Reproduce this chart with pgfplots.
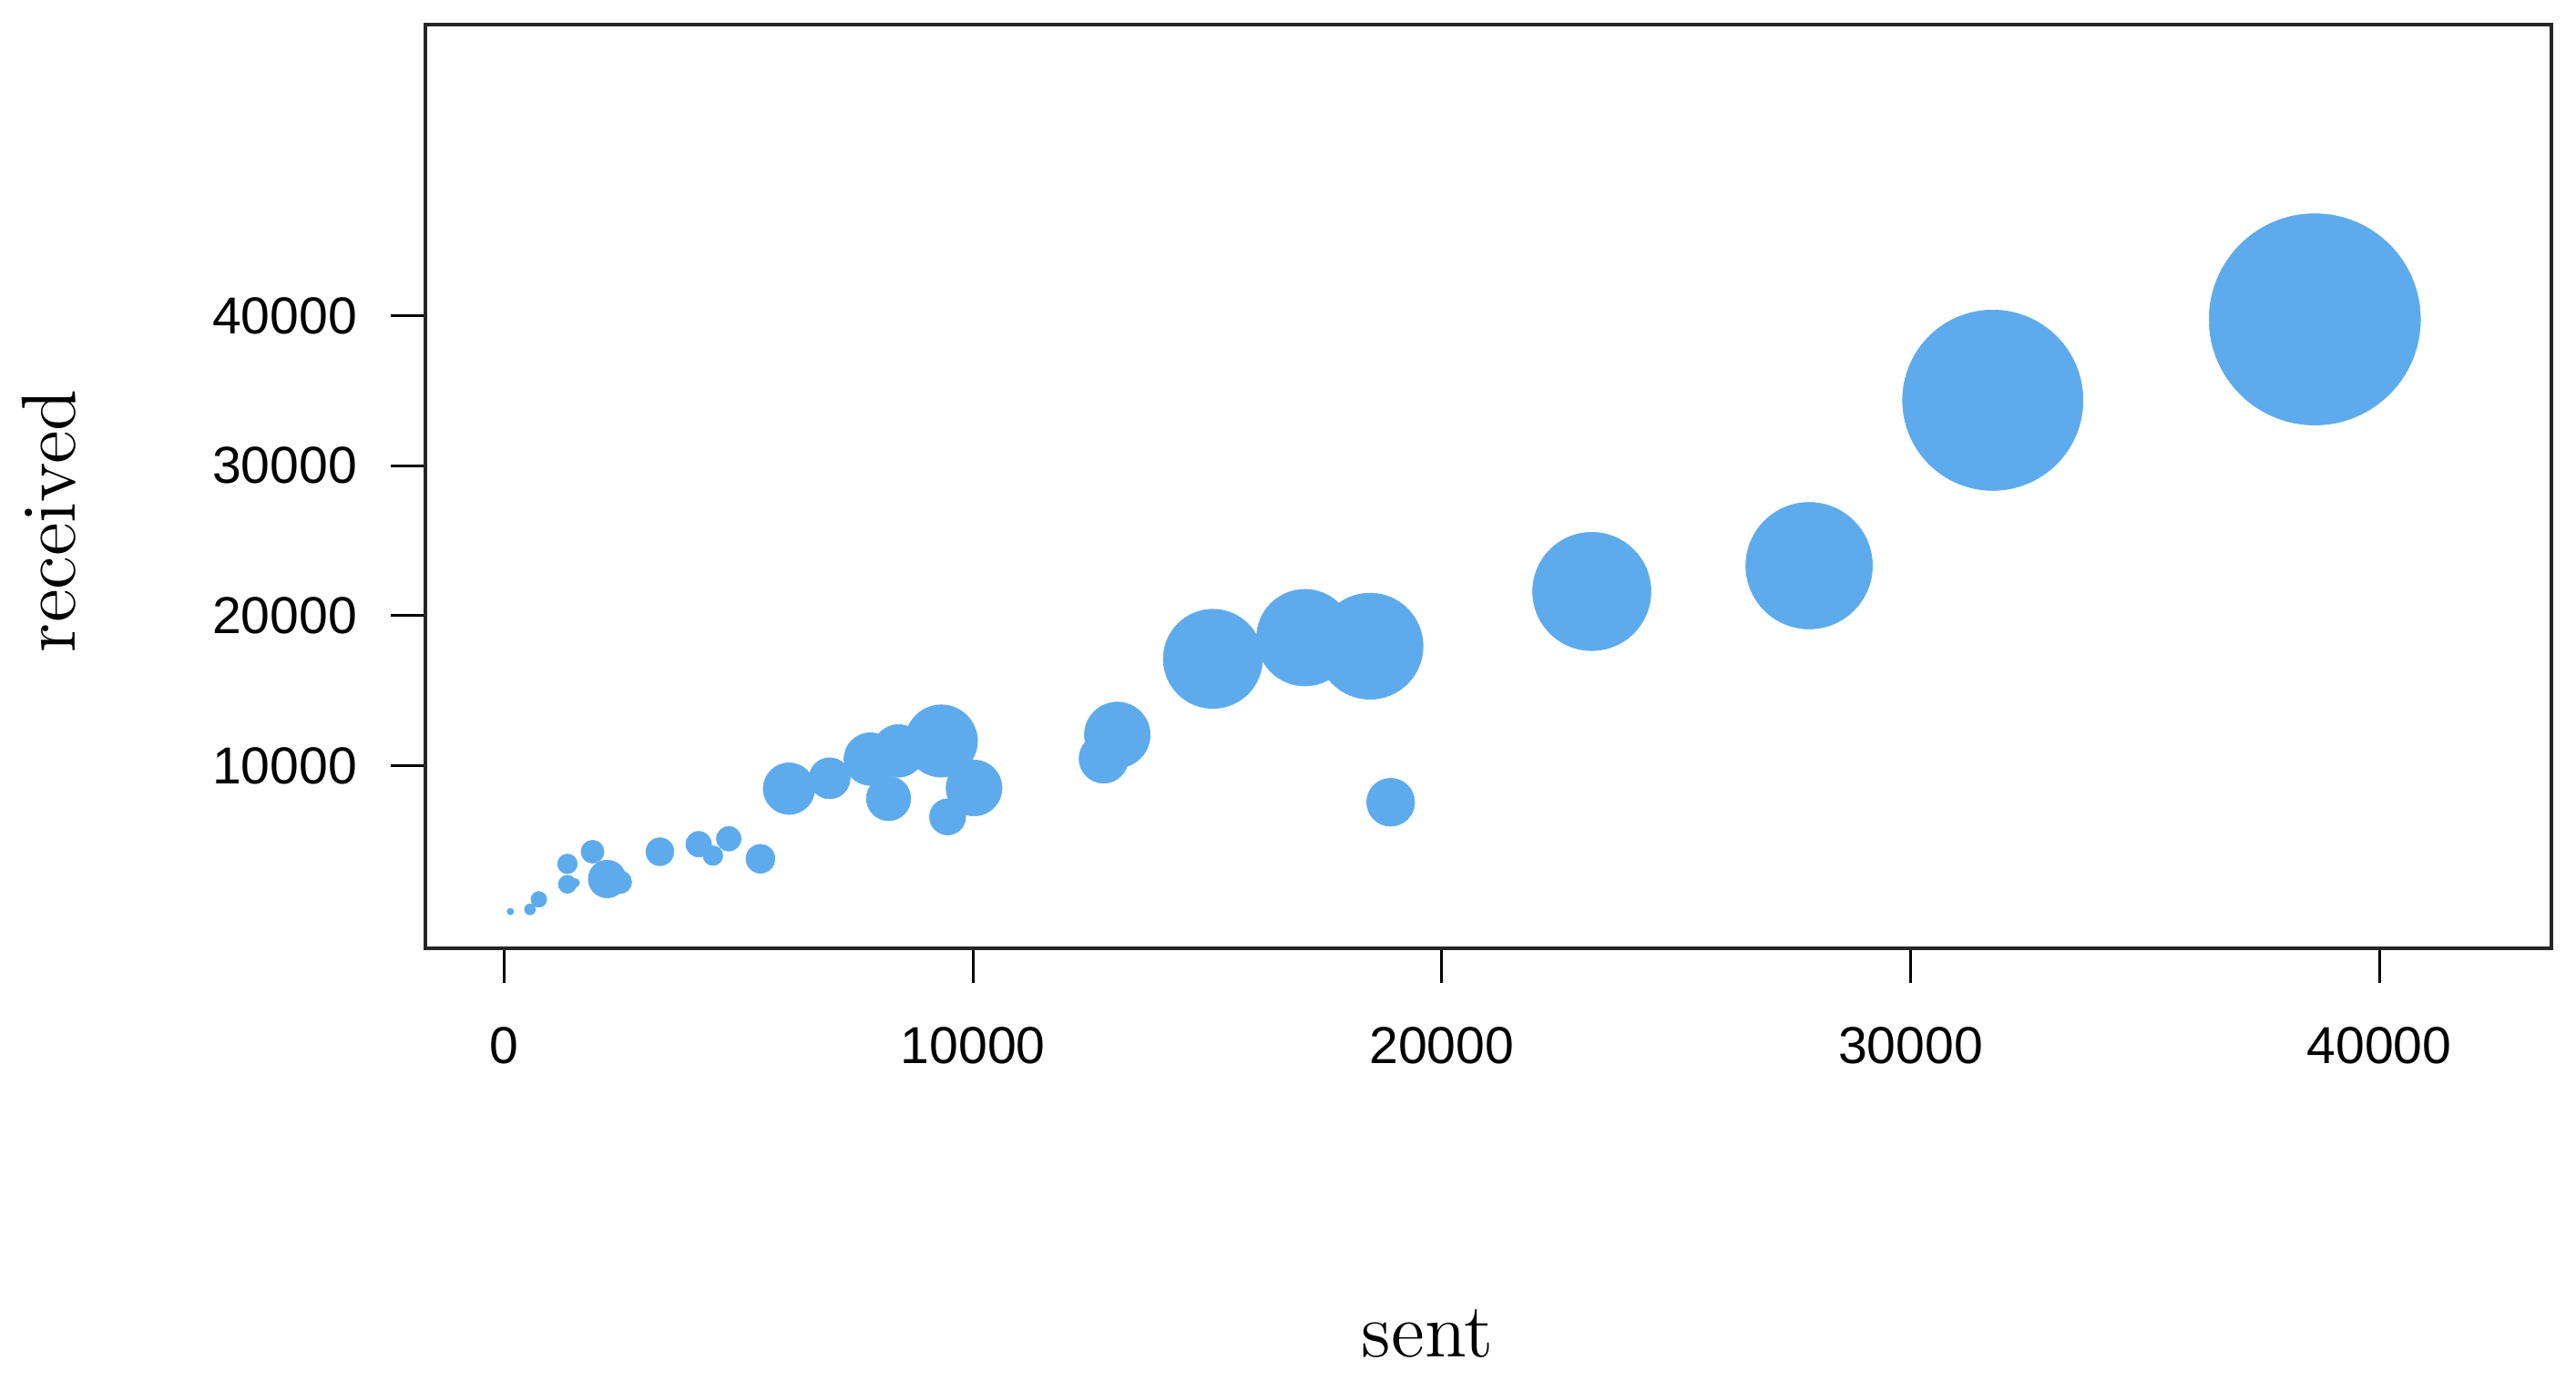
\documentclass[border=0pt]{standalone}
\usepackage{fontspec}
\usepackage{pgfplots}
\pgfplotsset{compat=1.18}
\newfontfamily\ticksf{Liberation Sans}
\definecolor{bub}{RGB}{93,171,236}
\begin{document}
\begin{tikzpicture}
\useasboundingbox (-77.7pt,-78.9pt) rectangle (392.7pt,173.1pt);
\begin{axis}[
  at={(0pt,0pt)}, anchor=south west,
  scale only axis, width=388.2pt, height=168.6pt,
  xmin=-1682, xmax=43672, ymin=-2158, ymax=59397,
  xtick={0,10000,20000,30000,40000},
  ytick={10000,20000,30000,40000},
  scaled ticks=false,
  /pgf/number format/.cd, fixed, precision=0, 1000 sep={}, assume math mode=true,
  /pgfplots/.cd,
  tick pos=left, tick align=outside,
  major tick length=6.3pt,
  tick style={black, line width=0.5pt},
  axis line style={black!85, line width=0.7pt},
  ticklabel style={font=\ticksf\fontsize{9.5}{11}\selectfont, inner sep=0pt},
  xticklabel style={anchor=north},
  yticklabel style={anchor=east},
  xticklabel shift=8.0pt,
  yticklabel shift=6.0pt,
  xlabel={sent}, ylabel={received},
  label style={font=\fontsize{14}{16}\selectfont, inner sep=0pt},
  xlabel style={at={(axis description cs:0.4714,-0.443)}, anchor=base},
  ylabel style={at={(axis description cs:-0.1646,0.4626)}, anchor=base, rotate=0},
  clip=false,
]
\addplot[
  scatter, only marks, mark=*, color=bub,
  mark options={draw=bub, fill=bub, line width=0.1pt},
  point meta=\thisrow{r},
  visualization depends on={\thisrow{r} \as \rad},
  scatter/use mapped color={draw=bub, fill=bub},
  scatter/@pre marker code/.append style={/tikz/mark size=\rad pt},
] table[x=x, y=y] {
x y r
38625 39750 19.29
31755 34359 16.47
27837 23330 11.55
23200 21610 10.8
18468 17963 9.69
17080 18532 8.82
15117 17119 9.06
18909 7558 4.38
13077 12048 6.0
12786 10471 4.5
9323 11643 6.6
10021 8510 5.1
8412 10986 4.8
7806 10438 4.8
8198 7809 4.05
9457 6583 3.3
6940 9157 3.75
6074 8467 4.71
5464 3790 2.64
4788 5126 2.25
4451 3998 1.8
4146 4764 2.34
3319 4261 2.55
2194 2442 3.45
2471 2234 2.1
1882 4261 2.1
1346 3450 1.8
1346 2092 1.65
1518 2191 0.75
736 1084 1.44
547 416 1.0
130 274 0.6
};
\end{axis}
\end{tikzpicture}
\end{document}
